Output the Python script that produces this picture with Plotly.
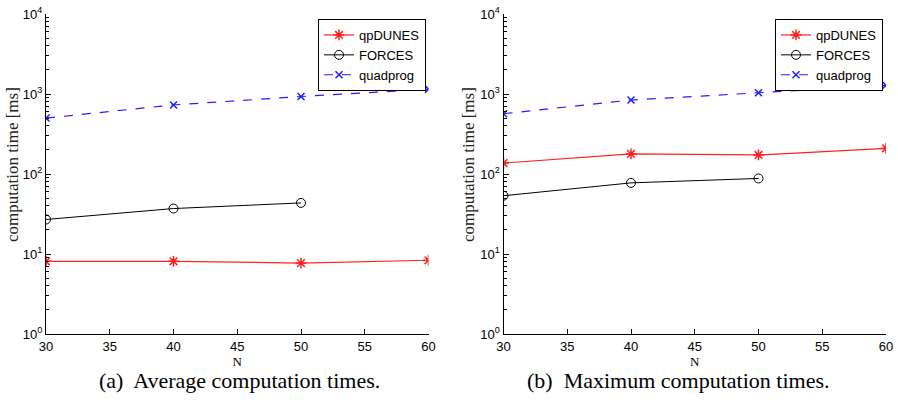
import plotly.graph_objects as go

N = [30, 40, 50, 60]
N_forces = [30, 40, 50]

avg_qpdunes = [8.1, 8.1, 7.7, 8.35]
avg_forces = [27, 37, 43.5]
avg_quadprog = [500, 730, 930, 1150]

max_qpdunes = [137, 178, 173, 209]
max_forces = [53.5, 77.5, 88]
max_quadprog = [567, 840, 1037, 1283]

y_tickvals = [1, 10, 100, 1000, 10000]
y_ticktext = ["10<sup>0</sup>", "10<sup>1</sup>", "10<sup>2</sup>", "10<sup>3</sup>", "10<sup>4</sup>"]

captions = ["(a)  Average computation times.", "(b)  Maximum computation times."]
ylabel = "computation time [ms]"
xlabel = "N"

SANS = "Liberation Sans, Arial, sans-serif"
SERIF = "Liberation Serif, DejaVu Serif, serif"

fig = go.Figure()

def add_panel(idx, qp, fo, qd):
    xa = "x" if idx == 1 else "x2"
    ya = "y" if idx == 1 else "y2"
    lg = "legend" if idx == 1 else "legend2"
    fig.add_trace(go.Scatter(x=N, y=qp, name="qpDUNES", mode="lines+markers",
                             line=dict(color="#ff2020", width=1.2),
                             marker=dict(symbol="asterisk-open", size=9, color="#ff2020",
                                         line=dict(color="#ff2020", width=1.5)),
                             xaxis=xa, yaxis=ya, legend=lg))
    fig.add_trace(go.Scatter(x=N_forces, y=fo, name="FORCES", mode="lines+markers",
                             line=dict(color="black", width=1),
                             marker=dict(symbol="circle-open", size=9, color="black",
                                         line=dict(color="black", width=1)),
                             xaxis=xa, yaxis=ya, legend=lg))
    fig.add_trace(go.Scatter(x=N, y=qd, name="quadprog", mode="lines+markers",
                             line=dict(color="#2020ff", width=1.2, dash="dash"),
                             marker=dict(symbol="x-thin-open", size=7, color="#2020ff",
                                         line=dict(color="#2020ff", width=1.5)),
                             xaxis=xa, yaxis=ya, legend=lg))

add_panel(1, avg_qpdunes, avg_forces, avg_quadprog)
add_panel(2, max_qpdunes, max_forces, max_quadprog)

W, H = 898, 404

def px(xs):
    return xs / W

def py(ys):
    return 1 - ys / H

dom_y = [py(334), py(14)]
dom_x1 = [px(46), px(428.5)]
dom_x2 = [px(503.5), px(886)]

def xaxis(dom, anchor):
    return dict(domain=dom, anchor=anchor, range=[30, 60], tickmode="linear", tick0=30, dtick=5,
                ticks="inside", ticklen=5, tickcolor="black", showline=True, linecolor="black",
                linewidth=1, showgrid=False, zeroline=False, mirror=False, automargin=False,
                tickfont=dict(family=SANS, size=13, color="black"),
                title=dict(text=xlabel, font=dict(family=SERIF, size=13, color="black"), standoff=0))

def yaxis(anchor):
    return dict(domain=dom_y, anchor=anchor, type="log", range=[0, 4],
                tickmode="array", tickvals=y_tickvals, ticktext=y_ticktext,
                ticks="inside", ticklen=5, tickcolor="black", showline=True, linecolor="black",
                linewidth=1, showgrid=False, zeroline=False, mirror=False, automargin=False,
                minor=dict(ticks="inside", ticklen=3, tickcolor="black", dtick="D1", showgrid=False),
                tickfont=dict(family=SANS, size=13, color="black"))

legend_common = dict(xanchor="right", yanchor="top", bgcolor="white", bordercolor="black",
                     borderwidth=1, font=dict(family=SANS, size=13, color="black"),
                     tracegroupgap=0, itemwidth=30)

ann = []
for cx, cap in [(239, captions[0]), (678, captions[1])]:
    ann.append(dict(text=cap, x=px(cx), y=py(380), xref="paper", yref="paper",
                    showarrow=False, xanchor="center", yanchor="middle",
                    font=dict(family=SERIF, size=22, color="black")))
for lx in [13, 469]:
    ann.append(dict(text=ylabel, x=px(lx), y=py(165), xref="paper", yref="paper",
                    showarrow=False, xanchor="center", yanchor="middle", textangle=-90,
                    font=dict(family=SERIF, size=17, color="#222222")))

fig.update_layout(
    width=W, height=H, margin=dict(l=0, r=0, t=0, b=0, autoexpand=False),
    paper_bgcolor="white", plot_bgcolor="white",
    xaxis=xaxis(dom_x1, "y"), yaxis=yaxis("x"),
    xaxis2=xaxis(dom_x2, "y2"), yaxis2=yaxis("x2"),
    legend=dict(x=px(426), y=py(19), **legend_common),
    legend2=dict(x=px(883), y=py(19), **legend_common),
    annotations=ann,
)

fig.write_html("out.html", config={"displayModeBar": False},
               post_script="document.body.style.margin='0';document.body.style.overflow='hidden';")
